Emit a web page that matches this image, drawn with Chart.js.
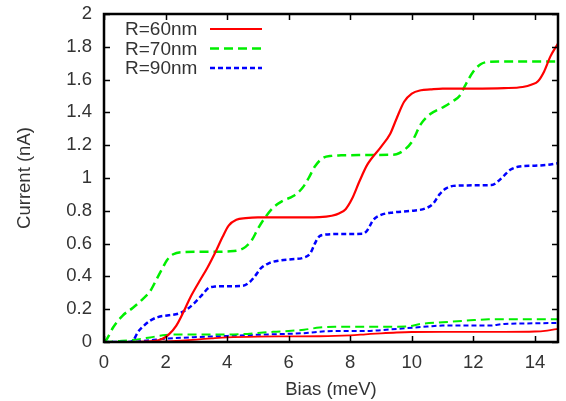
<!DOCTYPE html>
<html>
<head>
<meta charset="utf-8">
<script src="https://cdn.jsdelivr.net/npm/chart.js@4/dist/chart.umd.min.js"></script>
<style>
  html, body { margin: 0; padding: 0; background: #fff; }
  #wrap { width: 566px; height: 401px; }
</style>
</head>
<body>
<div id="wrap"><canvas id="c" width="566" height="401"></canvas></div>
<script>
// Bias (meV) / current (nA) samples for each dot radius
const r60Bias = [0, 1, 1.6, 1.9, 2.1, 2.35, 2.6, 2.8, 3.1, 3.35, 3.65, 3.85, 4.05, 4.3, 4.6, 5, 6, 7, 7.4, 7.65, 7.85, 8.05, 8.3, 8.55, 9.0, 9.3, 9.5, 9.75, 10.0, 10.3, 10.6, 11, 12, 13, 13.6, 13.9, 14.1, 14.3, 14.5, 14.75]
const r60Current = [0, 0, 0.005, 0.02, 0.045, 0.1, 0.19, 0.27, 0.37, 0.45, 0.56, 0.64, 0.71, 0.745, 0.755, 0.76, 0.76, 0.762, 0.77, 0.785, 0.81, 0.87, 0.98, 1.08, 1.19, 1.27, 1.36, 1.465, 1.515, 1.535, 1.54, 1.545, 1.545, 1.548, 1.555, 1.57, 1.59, 1.65, 1.74, 1.82]

const r70Bias = [0, 0.1, 0.3, 0.6, 0.95, 1.25, 1.5, 1.7, 1.9, 2.05, 2.25, 2.5, 3, 3.5, 4, 4.4, 4.6, 4.8, 5.0, 5.2, 5.5, 5.8, 6.15, 6.45, 6.65, 6.85, 7.1, 7.4, 7.7, 8.5, 9.3, 9.5, 9.75, 10.0, 10.3, 10.6, 11.0, 11.35, 11.55, 11.75, 12.0, 12.25, 12.5, 13, 14, 14.75]
const r70Current = [0, 0.02, 0.09, 0.16, 0.21, 0.26, 0.31, 0.38, 0.45, 0.5, 0.535, 0.548, 0.55, 0.55, 0.552, 0.56, 0.58, 0.62, 0.69, 0.75, 0.82, 0.86, 0.89, 0.94, 1.0, 1.07, 1.12, 1.135, 1.138, 1.14, 1.142, 1.145, 1.17, 1.22, 1.33, 1.39, 1.43, 1.47, 1.5, 1.57, 1.65, 1.695, 1.708, 1.71, 1.71, 1.71]

const r90Bias = [0, 0.8, 0.95, 1.1, 1.3, 1.5, 1.75, 2.1, 2.45, 2.7, 2.95, 3.2, 3.4, 3.6, 4.0, 4.5, 4.7, 4.9, 5.1, 5.35, 5.7, 6.1, 6.5, 6.7, 6.85, 7.0, 7.2, 7.6, 8.4, 8.55, 8.75, 9.0, 9.4, 10.0, 10.45, 10.7, 10.9, 11.1, 11.35, 11.8, 12.6, 12.8, 13.0, 13.2, 13.5, 14.0, 14.4, 14.75]
const r90Current = [0, 0, 0.01, 0.06, 0.1, 0.13, 0.152, 0.163, 0.175, 0.2, 0.24, 0.29, 0.33, 0.338, 0.34, 0.342, 0.36, 0.4, 0.45, 0.48, 0.497, 0.505, 0.515, 0.54, 0.6, 0.645, 0.655, 0.658, 0.66, 0.68, 0.745, 0.775, 0.79, 0.8, 0.815, 0.845, 0.9, 0.935, 0.952, 0.955, 0.957, 0.98, 1.015, 1.05, 1.07, 1.075, 1.08, 1.09]

// low-current branches (not in the key)
const r60LowBias = [0, 1.5, 2, 2.5, 3, 3.5, 4, 5, 6, 7, 7.5, 8, 8.5, 9, 9.5, 10, 11, 12, 13, 14, 14.4, 14.75]
const r60LowCurrent = [0, 0, 0.004, 0.009, 0.015, 0.022, 0.028, 0.033, 0.034, 0.035, 0.037, 0.041, 0.047, 0.053, 0.058, 0.061, 0.062, 0.062, 0.062, 0.064, 0.07, 0.08]

const r70LowBias = [0, 0.5, 1, 1.5, 2, 2.5, 3, 4, 4.5, 5, 5.5, 6, 6.5, 7, 7.5, 8, 9, 9.8, 10.3, 11, 11.9, 12.5, 13.5, 14.75]
const r70LowCurrent = [0, 0.006, 0.014, 0.028, 0.043, 0.046, 0.045, 0.045, 0.048, 0.055, 0.062, 0.067, 0.075, 0.088, 0.093, 0.093, 0.093, 0.094, 0.11, 0.12, 0.132, 0.138, 0.139, 0.139]

const r90LowBias = [0, 0.8, 1.2, 1.6, 2, 3, 4, 5, 6, 6.5, 7, 7.5, 8.5, 9, 9.5, 10.5, 11, 12.5, 13, 14, 14.75]
const r90LowCurrent = [0, 0, 0.006, 0.013, 0.02, 0.03, 0.037, 0.044, 0.05, 0.054, 0.063, 0.067, 0.067, 0.072, 0.08, 0.094, 0.1, 0.1, 0.11, 0.114, 0.116]

const xTicks = [0, 2, 4, 6, 8, 10, 12, 14]
const yTicks = [0, 0.2, 0.4, 0.6, 0.8, 1, 1.2, 1.4, 1.6, 1.8, 2]

const RED = "#ff0000"
const GREEN = "#00ee00"
const BLUE = "#0000ff"
const TEXT = "#333333"
const FONT = '"Liberation Sans", Arial, sans-serif'

const pts = (xs, ys) => xs.map((x, i) => ({ x, y: ys[i] }))

const line = (label, xs, ys, color, dash, width, inKey) => ({
  label,
  data: pts(xs, ys),
  borderColor: color,
  backgroundColor: color,
  borderDash: dash,
  borderWidth: width,
  pointRadius: 0,
  showLine: true,
  fill: false,
  cubicInterpolationMode: "monotone",
  inKey,
})

// gnuplot-like frame with inward ticks on all four sides
const framePlugin = {
  id: "frame",
  afterDatasetsDraw: (chart) => {
    const { ctx, chartArea } = chart
    const { left, top, right, bottom } = chartArea
    const xs = chart.scales.x
    const ys = chart.scales.y
    const tl = 6
    ctx.save()
    ctx.strokeStyle = "#000"
    ctx.lineWidth = 1.5
    ctx.beginPath()
    xTicks.forEach((v) => {
      const px = Math.round(xs.getPixelForValue(v)) + 0.5
      ctx.moveTo(px, bottom)
      ctx.lineTo(px, bottom - tl)
      ctx.moveTo(px, top)
      ctx.lineTo(px, top + tl)
    })
    yTicks.forEach((v) => {
      const py = Math.round(ys.getPixelForValue(v)) + 0.5
      ctx.moveTo(left, py)
      ctx.lineTo(left + tl, py)
      ctx.moveTo(right, py)
      ctx.lineTo(right - tl, py)
    })
    ctx.stroke()
    ctx.lineWidth = 2.5
    ctx.strokeRect(left, top, right - left, bottom - top)
    ctx.restore()
  },
}

// key: label text first, then a sample of the line
const keyPlugin = {
  id: "key",
  afterDatasetsDraw: (chart) => {
    const { ctx } = chart
    const items = chart.data.datasets.filter((d) => d.inKey)
    ctx.save()
    ctx.font = "19px " + FONT
    ctx.textBaseline = "middle"
    ctx.textAlign = "left"
    items.forEach((d, i) => {
      const y = 29 + i * 19.5
      ctx.fillStyle = TEXT
      ctx.fillText(d.label, 125, y + 1)
      ctx.strokeStyle = d.borderColor
      ctx.lineWidth = d.borderWidth
      ctx.setLineDash(d.borderDash)
      ctx.beginPath()
      ctx.moveTo(210, y)
      ctx.lineTo(262, y)
      ctx.stroke()
    })
    ctx.restore()
  },
}

new Chart(document.getElementById("c"), {
  type: "scatter",
  plugins: [framePlugin, keyPlugin],
  data: {
    datasets: [
      line("R=60nm", r60Bias, r60Current, RED, [], 2.2, true),
      line("R=70nm", r70Bias, r70Current, GREEN, [9, 5], 2.5, true),
      line("R=90nm", r90Bias, r90Current, BLUE, [5, 3], 2.5, true),
      line("R=60nm low", r60LowBias, r60LowCurrent, RED, [], 1.8, false),
      line("R=70nm low", r70LowBias, r70LowCurrent, GREEN, [9, 5], 2, false),
      line("R=90nm low", r90LowBias, r90LowCurrent, BLUE, [5, 3], 2, false),
    ],
  },
  options: {
    responsive: false,
    animation: false,
    layout: { padding: { top: 14, right: 8, left: 0, bottom: 0 } },
    plugins: {
      legend: { display: false },
      tooltip: { enabled: false },
    },
    scales: {
      x: {
        type: "linear",
        min: 0,
        max: 14.75,
        afterFit: (s) => {
          s.height = 59
          s.paddingLeft = 0
          s.paddingRight = 0
        },
        grid: { display: false, drawTicks: false },
        border: { display: false },
        ticks: {
          stepSize: 2,
          includeBounds: false,
          padding: 10,
          color: TEXT,
          font: { family: FONT, size: 18.5 },
        },
        title: {
          display: true,
          text: "Bias (meV)",
          color: TEXT,
          font: { family: FONT, size: 18.5 },
          padding: { top: 0, bottom: 0 },
        },
      },
      y: {
        type: "linear",
        min: 0,
        max: 2,
        afterFit: (s) => {
          s.width = 104
          s.paddingTop = 0
          s.paddingBottom = 0
        },
        grid: { display: false, drawTicks: false },
        border: { display: false },
        ticks: {
          stepSize: 0.2,
          padding: 12,
          color: TEXT,
          font: { family: FONT, size: 18.5 },
          callback: (v) => String(+v.toFixed(1)),
        },
        title: {
          display: true,
          text: "Current (nA)",
          color: TEXT,
          font: { family: FONT, size: 18.5 },
          padding: { top: 14, bottom: 0 },
        },
      },
    },
  },
})
</script>
</body>
</html>
